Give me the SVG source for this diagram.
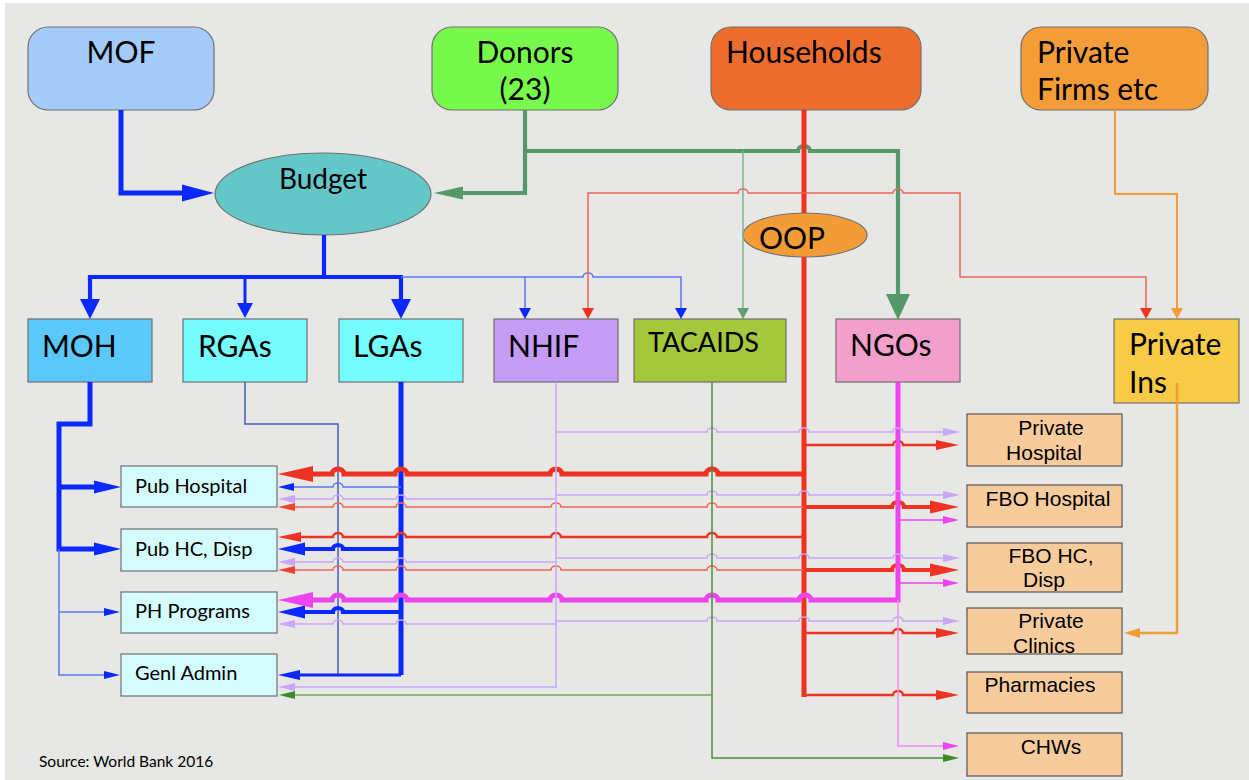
<svg xmlns="http://www.w3.org/2000/svg" width="1249" height="780" viewBox="0 0 1249 780">
<style>
.n{stroke:#707070;stroke-width:1.2}
.nr{stroke:#555;stroke-width:1.2;fill:#f7cc9d}
.nl{fill:#d5fcfc}
.t{font-family:Lato,"Liberation Sans",sans-serif;fill:#000}
.big{font-size:30px}
.mid{font-size:28px}
.sm{font-size:20px}
.m{text-anchor:middle}
.ar{font-family:"Liberation Sans",Arial,sans-serif;font-size:21px;fill:#000;text-anchor:middle}
.c{fill:none}
.bl{stroke:#0a28ff}
.blt{stroke:#5a78f5}
.bln{stroke:#4a5ab8}
.gr{stroke:#55996a}
.grl{stroke:#80b393}
.gt{stroke:#4f8d3f}
.gtl{stroke:#74a363}
.rd{stroke:#ee3322}
.rdl{stroke:#ef6655}
.mg{stroke:#ee44ee}
.mgl{stroke:#f08cf0}
.pu{stroke:#c9a6f7}
.or{stroke:#f39c38}
.w1{stroke-width:1.5}
.w2{stroke-width:2.5}
.w3{stroke-width:3}
.w4{stroke-width:4.2}
.w5{stroke-width:5}
</style>
<defs>
<marker id="bB1" markerUnits="userSpaceOnUse" markerWidth="32" markerHeight="17" refX="0" refY="8.5" orient="auto" overflow="visible"><path d="M0,0L32,8.5L0,17Z" fill="#0a28ff"/></marker>
<marker id="bB2" markerUnits="userSpaceOnUse" markerWidth="20" markerHeight="20" refX="0" refY="10" orient="auto" overflow="visible"><path d="M0,0L20,10L0,20Z" fill="#0a28ff"/></marker>
<marker id="bB3" markerUnits="userSpaceOnUse" markerWidth="15" markerHeight="16" refX="0" refY="8" orient="auto" overflow="visible"><path d="M0,0L15,8L0,16Z" fill="#0a28ff"/></marker>
<marker id="bS" markerUnits="userSpaceOnUse" markerWidth="11" markerHeight="12" refX="0" refY="6" orient="auto" overflow="visible"><path d="M0,0L11,6L0,12Z" fill="#0a28ff"/></marker>
<marker id="bL" markerUnits="userSpaceOnUse" markerWidth="27" markerHeight="13" refX="0" refY="6.5" orient="auto" overflow="visible"><path d="M0,0L27,6.5L0,13Z" fill="#0a28ff"/></marker>
<marker id="bM" markerUnits="userSpaceOnUse" markerWidth="22" markerHeight="10" refX="0" refY="5" orient="auto" overflow="visible"><path d="M0,0L22,5L0,10Z" fill="#0a28ff"/></marker>
<marker id="bT" markerUnits="userSpaceOnUse" markerWidth="16" markerHeight="8" refX="0" refY="4" orient="auto" overflow="visible"><path d="M0,0L16,4L0,8Z" fill="#0a28ff"/></marker>
<marker id="gB" markerUnits="userSpaceOnUse" markerWidth="29" markerHeight="13" refX="0" refY="6.5" orient="auto" overflow="visible"><path d="M0,0L29,6.5L0,13Z" fill="#55996a"/></marker>
<marker id="gN" markerUnits="userSpaceOnUse" markerWidth="26" markerHeight="24" refX="0" refY="12" orient="auto" overflow="visible"><path d="M0,0L26,12L0,24Z" fill="#55996a"/></marker>
<marker id="gS" markerUnits="userSpaceOnUse" markerWidth="11" markerHeight="12" refX="0" refY="6" orient="auto" overflow="visible"><path d="M0,0L11,6L0,12Z" fill="#5f9f74"/></marker>
<marker id="gT" markerUnits="userSpaceOnUse" markerWidth="16" markerHeight="8" refX="0" refY="4" orient="auto" overflow="visible"><path d="M0,0L16,4L0,8Z" fill="#3f8a2a"/></marker>
<marker id="rS" markerUnits="userSpaceOnUse" markerWidth="11" markerHeight="12" refX="0" refY="6" orient="auto" overflow="visible"><path d="M0,0L11,6L0,12Z" fill="#ee3322"/></marker>
<marker id="rL" markerUnits="userSpaceOnUse" markerWidth="35" markerHeight="16" refX="0" refY="8" orient="auto" overflow="visible"><path d="M0,0L35,8L0,16Z" fill="#ee3322"/></marker>
<marker id="rM" markerUnits="userSpaceOnUse" markerWidth="23" markerHeight="10" refX="0" refY="5" orient="auto" overflow="visible"><path d="M0,0L23,5L0,10Z" fill="#ee3322"/></marker>
<marker id="rK" markerUnits="userSpaceOnUse" markerWidth="29" markerHeight="13" refX="0" refY="6.5" orient="auto" overflow="visible"><path d="M0,0L29,6.5L0,13Z" fill="#ee3322"/></marker>
<marker id="rT" markerUnits="userSpaceOnUse" markerWidth="17" markerHeight="8" refX="0" refY="4" orient="auto" overflow="visible"><path d="M0,0L17,4L0,8Z" fill="#ee4433"/></marker>
<marker id="mL" markerUnits="userSpaceOnUse" markerWidth="35" markerHeight="16" refX="0" refY="8" orient="auto" overflow="visible"><path d="M0,0L35,8L0,16Z" fill="#ee44ee"/></marker>
<marker id="mT" markerUnits="userSpaceOnUse" markerWidth="16" markerHeight="8" refX="0" refY="4" orient="auto" overflow="visible"><path d="M0,0L16,4L0,8Z" fill="#ee44ee"/></marker>
<marker id="pT" markerUnits="userSpaceOnUse" markerWidth="17" markerHeight="8" refX="0" refY="4" orient="auto" overflow="visible"><path d="M0,0L17,4L0,8Z" fill="#c9a6f7"/></marker>
<marker id="oS" markerUnits="userSpaceOnUse" markerWidth="11" markerHeight="12" refX="0" refY="6" orient="auto" overflow="visible"><path d="M0,0L11,6L0,12Z" fill="#f39c38"/></marker>
<marker id="oM" markerUnits="userSpaceOnUse" markerWidth="16" markerHeight="10" refX="0" refY="5" orient="auto" overflow="visible"><path d="M0,0L16,5L0,10Z" fill="#f39c38"/></marker>
</defs>
<rect x="0" y="0" width="1249" height="780" fill="#ffffff"/>
<rect x="5" y="3" width="1244" height="777" fill="#e7e7e5"/>

<g id="MOF"><rect class="n" x="28" y="27" width="186" height="83" rx="20" fill="#a4cbf9"/><text class="t big m" x="121" y="63">MOF</text></g>
<g id="Donors"><rect class="n" x="432" y="27" width="186" height="83" rx="20" fill="#77f94b"/><text class="t big m" x="525" y="63">Donors</text><text class="t big m" x="525" y="100">(23)</text></g>
<g id="Households"><rect class="n" x="711" y="27" width="210" height="83" rx="20" fill="#ed6d2e"/><text class="t big" x="726" y="63">Households</text></g>
<g id="PrivateFirms"><rect class="n" x="1021" y="27" width="187" height="83" rx="20" fill="#f39c38"/><text class="t big" x="1037" y="63">Private</text><text class="t big" x="1037" y="100">Firms etc</text></g>
<g id="Budget"><ellipse class="n" cx="323" cy="194" rx="108" ry="41" fill="#63c7c8"/><text class="t mid m" x="323" y="189">Budget</text></g>
<g id="OOP"><ellipse class="n" cx="805" cy="235" rx="62" ry="22" fill="#f29c37"/><text class="t big m" x="792" y="249">OOP</text></g>

<g id="MOH"><rect class="n" x="28" y="319" width="124" height="63" fill="#5ac8fa"/><text class="t big" x="42" y="357">MOH</text></g>
<g id="RGAs"><rect class="n" x="183" y="319" width="124" height="63" fill="#75fcfc"/><text class="t big" x="198" y="357">RGAs</text></g>
<g id="LGAs"><rect class="n" x="339" y="319" width="124" height="63" fill="#75fcfc"/><text class="t big" x="353" y="357">LGAs</text></g>
<g id="NHIF"><rect class="n" x="494" y="319" width="124" height="63" fill="#c59cf5"/><text class="t big" x="508" y="357">NHIF</text></g>
<g id="TACAIDS"><rect class="n" x="634" y="319" width="152" height="63" fill="#a4c73c"/><text class="t" font-size="27" x="648" y="352">TACAIDS</text></g>
<g id="NGOs"><rect class="n" x="836" y="319" width="124" height="63" fill="#f29fcb"/><text class="t big" x="850" y="356">NGOs</text></g>
<g id="PrivateIns"><rect class="n" x="1114" y="319" width="125" height="84" fill="#f8cb46"/><text class="t big" x="1129" y="355">Private</text><text class="t big" x="1129" y="393">Ins</text></g>

<g id="PubHospital"><rect class="n nl" x="121" y="466" width="156" height="41"/><text class="t sm" x="135" y="493">Pub Hospital</text></g>
<g id="PubHC"><rect class="n nl" x="121" y="529" width="156" height="42"/><text class="t sm" x="135" y="556">Pub HC, Disp</text></g>
<g id="PHPrograms"><rect class="n nl" x="121" y="592" width="156" height="41"/><text class="t sm" x="135" y="618">PH Programs</text></g>
<g id="GenlAdmin"><rect class="n nl" x="121" y="654" width="156" height="42"/><text class="t sm" x="135" y="680">Genl Admin</text></g>

<g id="PrivateHospital"><rect class="nr" x="967" y="414" width="155" height="52"/><text class="ar" x="1051" y="435">Private</text><text class="ar" x="1044" y="460">Hospital</text></g>
<g id="FBOHospital"><rect class="nr" x="967" y="485" width="155" height="42"/><text class="ar" x="1048" y="506">FBO Hospital</text></g>
<g id="FBOHC"><rect class="nr" x="967" y="543" width="155" height="49"/><text class="ar" x="1051" y="563">FBO HC,</text><text class="ar" x="1044" y="587">Disp</text></g>
<g id="PrivateClinics"><rect class="nr" x="967" y="608" width="155" height="46"/><text class="ar" x="1051" y="628">Private</text><text class="ar" x="1044" y="653">Clinics</text></g>
<g id="Pharmacies"><rect class="nr" x="967" y="672" width="155" height="41"/><text class="ar" x="1040" y="692">Pharmacies</text></g>
<g id="CHWs"><rect class="nr" x="967" y="733" width="155" height="43"/><text class="ar" x="1051" y="754">CHWs</text></g>

<text class="t" font-size="15.5" x="39" y="767">Source: World Bank 2016</text>

<g id="connectors">
<!-- blue from MOF and Budget -->
<path class="c bl w5" d="M121,110V193H182" marker-end="url(#bB1)"/>
<path class="c bl w4" d="M324,235V277"/>
<path class="c bl w4" d="M324,277H90V299" marker-end="url(#bB2)"/>
<path class="c bl w4" d="M324,277H401V299" marker-end="url(#bB2)"/>
<path class="c bl w3" d="M245,277V303" marker-end="url(#bB3)"/>
<path class="c blt w1" d="M401,277H525V308" marker-end="url(#bS)"/>
<path class="c blt w1" d="M525,277H583a5,4 0 0 1 10,0H681V308" marker-end="url(#bS)"/>
<!-- MOH -->
<path class="c bl w5" d="M90,382V424H59V549H94" marker-end="url(#bL)"/>
<path class="c bl w5" d="M59,487H94" marker-end="url(#bL)"/>
<path class="c blt w1" d="M59,549V675H104" marker-end="url(#bT)"/>
<path class="c blt w1" d="M59,612H104" marker-end="url(#bT)"/>
<!-- RGAs -->
<path class="c bln w1" d="M245,382V424H338V675"/>
<!-- LGAs -->
<path class="c bl w5" d="M401,382V675"/>
<path class="c bl w3" d="M401,675H300" marker-end="url(#bM)"/>
<path class="c bl w4" d="M401,549H343a5,4 0 0 0 -10,0H305" marker-end="url(#bL)"/>
<path class="c bl w4" d="M401,612H343a5,4 0 0 0 -10,0H305" marker-end="url(#bL)"/>
<path class="c blt w1" d="M401,487H343a5,4 0 0 0 -10,0H294" marker-end="url(#bT)"/>
<!-- Donors green -->
<path class="c gr w4" d="M525,110V193H463" marker-end="url(#gB)"/>
<path class="c gr w4" d="M525,151H798a6,5 0 0 1 12,0H898V294" marker-end="url(#gN)"/>
<path class="c grl w1" d="M743,151V308" marker-end="url(#gS)"/>
<!-- Households red -->
<path class="c rd w5" d="M804,110V213M804,257V697"/>
<path class="c rdl w1" d="M804,193H748a5,4 0 0 0 -10,0H588V308" marker-end="url(#rS)"/>
<path class="c rdl w1" d="M804,193H893a5,4 0 0 1 10,0H960V277H1146V308" marker-end="url(#rS)"/>
<path class="c rd w5" d="M804,474H718a6,5 0 0 0 -12,0H562a6,5 0 0 0 -12,0H407a6,5 0 0 0 -12,0H344a6,5 0 0 0 -12,0H313" marker-end="url(#rL)"/>
<path class="c rdl w1" d="M804,507H717a5,4 0 0 0 -10,0H561a5,4 0 0 0 -10,0H406a5,4 0 0 0 -10,0H343a5,4 0 0 0 -10,0H295" marker-end="url(#rT)"/>
<path class="c rd w2" d="M804,537H717a5,4 0 0 0 -10,0H561a5,4 0 0 0 -10,0H406a5,4 0 0 0 -10,0H343a5,4 0 0 0 -10,0H301" marker-end="url(#rM)"/>
<path class="c rdl w1" d="M804,570H717a5,4 0 0 0 -10,0H561a5,4 0 0 0 -10,0H406a5,4 0 0 0 -10,0H343a5,4 0 0 0 -10,0H295" marker-end="url(#rT)"/>
<path class="c rd w2" d="M804,445H893a5,4 0 0 1 10,0H936" marker-end="url(#rM)"/>
<path class="c rd w4" d="M804,507H892a6,5 0 0 1 12,0H930" marker-end="url(#rK)"/>
<path class="c rd w4" d="M804,570H892a6,5 0 0 1 12,0H930" marker-end="url(#rK)"/>
<path class="c rd w2" d="M804,633H893a5,4 0 0 1 10,0H936" marker-end="url(#rM)"/>
<path class="c rd w2" d="M804,695H893a5,4 0 0 1 10,0H936" marker-end="url(#rM)"/>
<!-- NGOs magenta -->
<path class="c mg w5" d="M898,382V600H811a6,5 0 0 0 -12,0H718a6,5 0 0 0 -12,0H562a6,5 0 0 0 -12,0H407a6,5 0 0 0 -12,0H344a6,5 0 0 0 -12,0H313" marker-end="url(#mL)"/>
<path class="c mg w1" d="M898,520H943" marker-end="url(#mT)"/>
<path class="c mg w1" d="M898,583H943" marker-end="url(#mT)"/>
<path class="c mgl w1" d="M898,600V746H943" marker-end="url(#mT)"/>
<!-- NHIF purple -->
<path class="c pu w1" d="M556,382V687H295" marker-end="url(#pT)"/>
<path class="c pu w1" d="M556,499H406a5,4 0 0 0 -10,0H343a5,4 0 0 0 -10,0H295" marker-end="url(#pT)"/>
<path class="c pu w1" d="M556,562H406a5,4 0 0 0 -10,0H343a5,4 0 0 0 -10,0H295" marker-end="url(#pT)"/>
<path class="c pu w1" d="M556,624H406a5,4 0 0 0 -10,0H343a5,4 0 0 0 -10,0H295" marker-end="url(#pT)"/>
<path class="c pu w1" d="M556,432H707a5,4 0 0 1 10,0H799a5,4 0 0 1 10,0H893a5,4 0 0 1 10,0H943" marker-end="url(#pT)"/>
<path class="c pu w1" d="M556,495H707a5,4 0 0 1 10,0H799a5,4 0 0 1 10,0H893a5,4 0 0 1 10,0H943" marker-end="url(#pT)"/>
<path class="c pu w1" d="M556,558H707a5,4 0 0 1 10,0H799a5,4 0 0 1 10,0H893a5,4 0 0 1 10,0H943" marker-end="url(#pT)"/>
<path class="c pu w1" d="M556,621H707a5,4 0 0 1 10,0H799a5,4 0 0 1 10,0H893a5,4 0 0 1 10,0H943" marker-end="url(#pT)"/>
<!-- TACAIDS green -->
<path class="c gt w1" d="M712,382V758H943" marker-end="url(#gT)"/>
<path class="c gtl w1" d="M712,695H295" marker-end="url(#gT)"/>
<!-- Orange -->
<path class="c or" stroke-width="2" d="M1115,110V194H1177V308" marker-end="url(#oS)"/>
<path class="c or" stroke-width="2.5" d="M1177,383V633H1140" marker-end="url(#oM)"/>
</g>
</svg>
